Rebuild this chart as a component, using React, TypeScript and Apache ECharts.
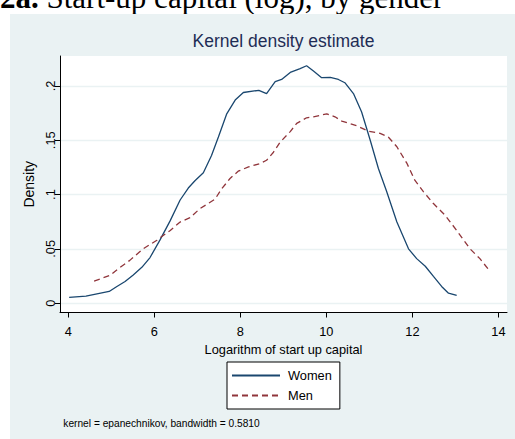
import React, { useEffect, useRef } from "react";
import * as echarts from "echarts";

// Kernel density estimate of log start-up capital, by gender
const WOMEN_X = [4.02, 4.41, 4.95, 5.13, 5.32, 5.51, 5.71, 5.9, 6.13, 6.37, 6.6, 6.79, 6.95, 7.14, 7.33, 7.49, 7.68, 7.88, 8.07, 8.43, 8.61, 8.81, 8.96, 9.16, 9.39, 9.54, 9.7, 9.89, 10.09, 10.28, 10.43, 10.63, 10.82, 11.02, 11.21, 11.4, 11.64, 11.91, 12.1, 12.3, 12.49, 12.68, 12.84, 13.03];
const WOMEN_Y = [0.0053, 0.0065, 0.0108, 0.0154, 0.02, 0.026, 0.033, 0.042, 0.058, 0.076, 0.095, 0.106, 0.113, 0.12, 0.136, 0.153, 0.174, 0.187, 0.194, 0.196, 0.193, 0.204, 0.206, 0.2125, 0.216, 0.2186, 0.2137, 0.2076, 0.208, 0.206, 0.203, 0.193, 0.176, 0.15, 0.124, 0.103, 0.0747, 0.05, 0.041, 0.034, 0.0246, 0.0154, 0.0092, 0.0071];
const MEN_X = [4.6, 4.97, 5.16, 5.43, 5.74, 6.06, 6.37, 6.6, 6.83, 7.06, 7.41, 7.57, 7.76, 7.95, 8.19, 8.46, 8.61, 8.77, 8.92, 9.16, 9.31, 9.54, 9.7, 10.01, 10.2, 10.36, 10.71, 10.98, 11.25, 11.44, 11.64, 11.87, 12.06, 12.26, 12.49, 12.76, 13.03, 13.34, 13.57, 13.79];
const MEN_Y = [0.0203, 0.0256, 0.0317, 0.0394, 0.05, 0.058, 0.067, 0.0747, 0.0788, 0.087, 0.0957, 0.1055, 0.1148, 0.1215, 0.1255, 0.1286, 0.1316, 0.139, 0.148, 0.158, 0.1655, 0.1707, 0.1716, 0.1744, 0.1716, 0.1676, 0.1633, 0.1584, 0.1563, 0.153, 0.144, 0.129, 0.113, 0.1025, 0.0917, 0.081, 0.067, 0.05, 0.041, 0.03];

const SERIES_NAMES = ["Women", "Men"];
const X_TICKS = [4, 6, 8, 10, 12, 14];
const Y_TICKS = [0, 0.05, 0.1, 0.15, 0.2];
const X_RANGE = [3.807, 14.2];
const Y_RANGE = [-0.0086, 0.2276];

const HEADING_BOLD = "2a.";
const HEADING_REST = " Start-up capital (log), by gender";
const TITLE = "Kernel density estimate";
const X_NAME = "Logarithm of start up capital";
const Y_NAME = "Density";
const NOTE = "kernel = epanechnikov, bandwidth = 0.5810";

const SANS = "'Liberation Sans', Arial, sans-serif";
const SERIF = "'Liberation Serif', 'Times New Roman', serif";
const PANEL = "#EAF2F3";

function pairs(xs: number[], ys: number[]) {
  return xs.map((x, i) => [x, ys[i]]);
}

function fmtY(v: number) {
  if (v === 0) return "0";
  return String(Number(v.toFixed(4))).replace(/^0/, "");
}

export default function App() {
  const ref = useRef<HTMLDivElement>(null);
  useEffect(() => {
    if (!ref.current) return;
    const chart = echarts.init(ref.current, null, { renderer: "svg" });
    chart.setOption({
      animation: false,
      backgroundColor: "#ffffff",
      graphic: [
        {
          type: "text",
          x: 0,
          y: -3,
          z: -3,
          style: {
            text: "{b|" + HEADING_BOLD + "}" + HEADING_REST,
            fontFamily: SERIF,
            fontSize: 31,
            fill: "#000",
            verticalAlign: "middle",
            align: "left",
            rich: { b: { fontWeight: "bold", fontFamily: SERIF, fontSize: 31, fill: "#000" } },
          },
        },
        {
          type: "rect",
          z: -2,
          shape: { x: 10, y: 14, width: 505, height: 425 },
          style: { fill: PANEL },
        },
        {
          type: "text",
          x: 283.5,
          y: 40.8,
          style: {
            text: TITLE,
            fontFamily: SANS,
            fontSize: 17.5,
            fill: "#1F2D55",
            align: "center",
            verticalAlign: "middle",
          },
        },
        {
          type: "text",
          x: 63.3,
          y: 423.3,
          style: {
            text: NOTE,
            fontFamily: SANS,
            fontSize: 10.2,
            fill: "#000",
            align: "left",
            verticalAlign: "middle",
          },
        },
      ],
      grid: {
        left: 60,
        right: 8,
        top: 56,
        bottom: 126.5,
        show: true,
        backgroundColor: "#ffffff",
        borderWidth: 0,
        containLabel: false,
      },
      legend: {
        orient: "vertical",
        left: 227,
        top: 362,
        padding: [7, 8, 7, 4],
        itemWidth: 48,
        itemHeight: 14,
        itemGap: 7,
        borderColor: "#000",
        borderWidth: 1,
        backgroundColor: "#ffffff",
        data: SERIES_NAMES,
        itemStyle: { opacity: 0 },
        textStyle: { fontFamily: SANS, fontSize: 12.8, color: "#000", padding: [0, 0, 0, 3] },
      },
      xAxis: {
        type: "value",
        min: X_RANGE[0],
        max: X_RANGE[1],
        name: X_NAME,
        nameLocation: "middle",
        nameGap: 25,
        nameTextStyle: { fontFamily: SANS, fontSize: 12.8, color: "#000" },
        axisLine: { show: true, onZero: false, lineStyle: { color: "#000", width: 1 } },
        axisTick: { show: true, length: 5, customValues: X_TICKS, lineStyle: { color: "#000" } },
        axisLabel: {
          customValues: X_TICKS,
          margin: 12.7,
          fontFamily: SANS,
          fontSize: 12.8,
          color: "#000",
          showMinLabel: true,
          showMaxLabel: true,
        },
        splitLine: { show: false },
      },
      yAxis: {
        type: "value",
        min: Y_RANGE[0],
        max: Y_RANGE[1],
        name: Y_NAME,
        nameLocation: "middle",
        nameRotate: 90,
        nameGap: 20,
        nameTextStyle: { fontFamily: SANS, fontSize: 14, color: "#000" },
        axisLine: { show: true, onZero: false, lineStyle: { color: "#000", width: 1 } },
        axisTick: { show: true, length: 5, customValues: Y_TICKS, lineStyle: { color: "#000" } },
        axisLabel: {
          customValues: Y_TICKS,
          rotate: 90,
          margin: 3.5,
          fontFamily: SANS,
          fontSize: 12.8,
          color: "#000",
          formatter: (v: number) => fmtY(v),
        },
        splitLine: { show: true, lineStyle: { color: PANEL, width: 1.3 } },
      },
      series: [
        {
          name: SERIES_NAMES[0],
          type: "line",
          data: pairs(WOMEN_X, WOMEN_Y),
          showSymbol: false,
          symbol: "none",
          lineStyle: { color: "#1A476F", width: 1.3, type: "solid" },
          itemStyle: { color: "#1A476F" },
        },
        {
          name: SERIES_NAMES[1],
          type: "line",
          data: pairs(MEN_X, MEN_Y),
          showSymbol: false,
          symbol: "none",
          lineStyle: { color: "#90353B", width: 1.3, type: [6, 4] },
          itemStyle: { color: "#90353B" },
        },
      ],
    });
    return () => chart.dispose();
  }, []);
  return (
    <div
      ref={ref}
      style={{ position: "fixed", left: 0, top: 0, width: 515, height: 439 }}
    />
  );
}
